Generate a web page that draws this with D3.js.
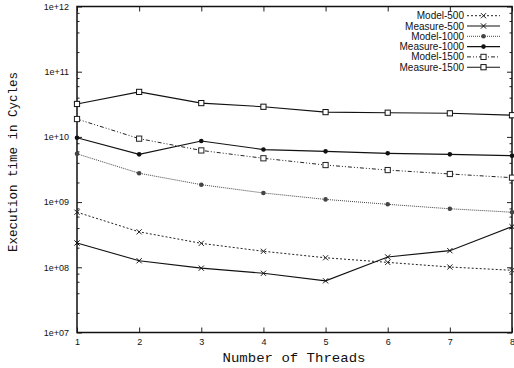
<!DOCTYPE html>
<html>
<head>
<meta charset="utf-8">
<script src="https://cdn.jsdelivr.net/npm/d3@7"></script>
<style>
  html, body { margin: 0; padding: 0; background: #fff; }
  svg { display: block; }
</style>
</head>
<body>
<svg id="chart" width="514" height="368"></svg>
<script>
// ---- data ----
const threads = [1, 2, 3, 4, 5, 6, 7, 8];
const model500    = [7.0e8, 3.5e8, 2.33e8, 1.76e8, 1.4e8, 1.19e8, 1.01e8, 9.0e7];
const measure500  = [2.36e8, 1.26e8, 9.7e7, 8.1e7, 6.2e7, 1.44e8, 1.8e8, 4.2e8];
const model1000   = [5.5e9, 2.77e9, 1.85e9, 1.38e9, 1.1e9, 9.25e8, 7.9e8, 7.0e8];
const measure1000 = [9.7e9, 5.4e9, 8.65e9, 6.4e9, 6.0e9, 5.6e9, 5.4e9, 5.15e9];
const model1500   = [1.88e10, 9.4e9, 6.2e9, 4.7e9, 3.7e9, 3.1e9, 2.7e9, 2.37e9];
const measure1500 = [3.2e10, 4.9e10, 3.3e10, 2.9e10, 2.4e10, 2.35e10, 2.3e10, 2.15e10];
const seriesNames = ["Model-500", "Measure-500", "Model-1000", "Measure-1000", "Model-1500", "Measure-1500"];
const yTickValues = [1e7, 1e8, 1e9, 1e10, 1e11, 1e12];
const yTickLabels = ["1e+07", "1e+08", "1e+09", "1e+10", "1e+11", "1e+12"];
const xTitle = "Number of Threads";
const yTitle = "Execution time in Cycles";

// ---- styles ----
const styles = [
  { data: model500,    dash: "2,2",             color: "#222", width: 1,   marker: "x" },
  { data: measure500,  dash: null,              color: "#111", width: 1.1, marker: "x" },
  { data: model1000,   dash: "1,1",             color: "#444", width: 1,   marker: "dot" },
  { data: measure1000, dash: null,              color: "#111", width: 1.2, marker: "dot" },
  { data: model1500,   dash: "4,2,1,2,1,2",     color: "#222", width: 1,   marker: "square" },
  { data: measure1500, dash: null,              color: "#111", width: 1.1, marker: "square" }
];

const svg = d3.select("#chart");
const L = 77, R = 512, T = 6.5, B = 332.5;

const x = d3.scaleLinear().domain([1, 8]).range([L, R]);
const y = d3.scaleLog().domain([1e7, 1e12]).range([B, T]);

// minor ticks (2,4,6,8 per decade)
const minor = [];
for (let e = 7; e < 12; e++) [2, 4, 6, 8].forEach(m => minor.push(m * Math.pow(10, e)));

const tickFont = "'Liberation Sans', Arial, sans-serif";

function styleAxis(g) {
  g.select(".domain").remove();
  g.selectAll("line").attr("stroke", "#222").attr("stroke-width", 1);
  g.selectAll("text").attr("font-family", tickFont).attr("font-size", 9).attr("fill", "#111");
}

// left major
svg.append("g").attr("transform", `translate(${L},0)`)
  .call(d3.axisLeft(y).tickValues(yTickValues).tickFormat((d, i) => yTickLabels[i]).tickSize(-5).tickPadding(8))
  .call(styleAxis);
// left minor
svg.append("g").attr("transform", `translate(${L},0)`)
  .call(d3.axisLeft(y).tickValues(minor).tickFormat("").tickSize(-2.5))
  .call(styleAxis);
// right major/minor
svg.append("g").attr("transform", `translate(${R},0)`)
  .call(d3.axisRight(y).tickValues(yTickValues).tickFormat("").tickSize(-5))
  .call(styleAxis);
svg.append("g").attr("transform", `translate(${R},0)`)
  .call(d3.axisRight(y).tickValues(minor).tickFormat("").tickSize(-2.5))
  .call(styleAxis);
// bottom
svg.append("g").attr("transform", `translate(0,${B})`)
  .call(d3.axisBottom(x).tickValues(threads).tickFormat(d3.format("d")).tickSize(-5).tickPadding(6))
  .call(styleAxis);
// top
svg.append("g").attr("transform", `translate(0,${T})`)
  .call(d3.axisTop(x).tickValues(threads).tickFormat("").tickSize(-5))
  .call(styleAxis);

// border
svg.append("rect").attr("x", L).attr("y", T).attr("width", R - L).attr("height", B - T)
  .attr("fill", "none").attr("stroke", "#111").attr("stroke-width", 1.5);

// markers
function drawMarker(g, type, cx, cy, color) {
  if (type === "x") {
    const s = 2.6;
    g.append("path").attr("d", `M${cx - s},${cy - s}L${cx + s},${cy + s}M${cx - s},${cy + s}L${cx + s},${cy - s}`)
      .attr("stroke", color).attr("stroke-width", 1).attr("fill", "none");
  } else if (type === "dot") {
    g.append("circle").attr("cx", cx).attr("cy", cy).attr("r", 2.3).attr("fill", color);
  } else {
    const s = 2.6;
    g.append("rect").attr("x", cx - s).attr("y", cy - s).attr("width", 2 * s).attr("height", 2 * s)
      .attr("fill", "#fff").attr("stroke", color).attr("stroke-width", 1);
  }
}

const line = d3.line().x((d, i) => x(threads[i])).y(d => y(d));
const plot = svg.append("g");
styles.forEach(s => {
  plot.append("path").datum(s.data).attr("d", line)
    .attr("fill", "none").attr("stroke", s.color).attr("stroke-width", s.width)
    .attr("stroke-dasharray", s.dash);
});
styles.forEach(s => {
  s.data.forEach((v, i) => drawMarker(plot, s.marker, x(threads[i]), y(v), s.color));
});

// legend
const lg = svg.append("g");
seriesNames.forEach((name, i) => {
  const s = styles[i];
  const ly = 15.7 + i * 10.3;
  lg.append("text").attr("x", 464).attr("y", ly).attr("dy", "0.35em")
    .attr("text-anchor", "end").attr("font-family", tickFont).attr("font-size", 10).attr("fill", "#111")
    .text(name);
  lg.append("line").attr("x1", 467).attr("x2", 500).attr("y1", ly).attr("y2", ly)
    .attr("stroke", s.color).attr("stroke-width", s.width).attr("stroke-dasharray", s.dash);
  drawMarker(lg, s.marker, 483.5, ly, s.color);
});

// titles
svg.append("text").attr("x", 294).attr("y", 362).attr("text-anchor", "middle")
  .attr("font-family", "'Liberation Mono', 'Courier New', monospace").attr("font-size", 13)
  .attr("textLength", 143).attr("lengthAdjust", "spacingAndGlyphs").attr("fill", "#111")
  .text(xTitle);
svg.append("text").attr("transform", "translate(17,162) rotate(-90)").attr("text-anchor", "middle")
  .attr("font-family", "'Liberation Mono', 'Courier New', monospace").attr("font-size", 12.5)
  .attr("textLength", 180).attr("lengthAdjust", "spacingAndGlyphs").attr("fill", "#111")
  .text(yTitle);
</script>
</body>
</html>
